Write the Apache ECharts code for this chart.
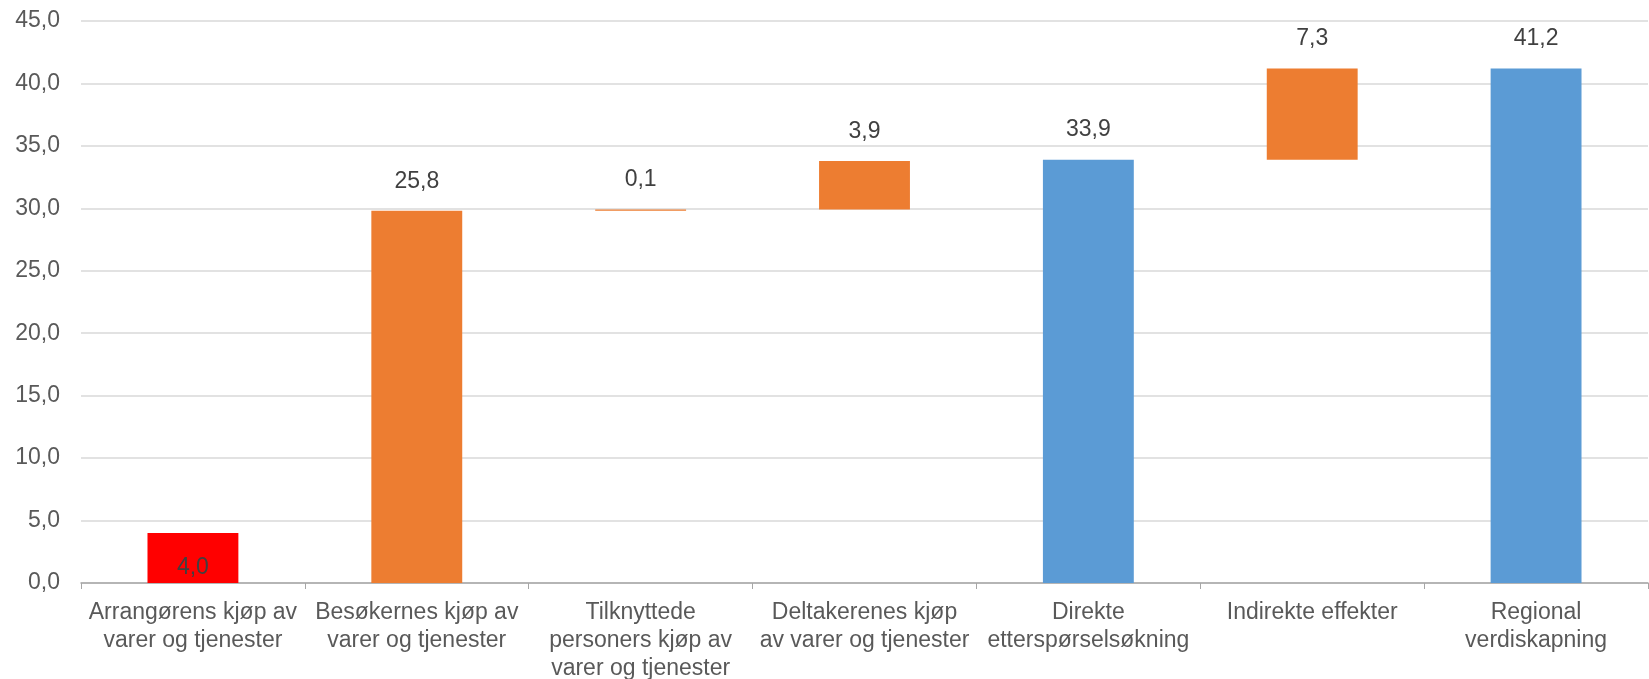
<!DOCTYPE html>
<html>
<head>
<meta charset="utf-8">
<script src="https://cdn.jsdelivr.net/npm/echarts@6/dist/echarts.min.js"></script>
<style>
html, body { margin: 0; padding: 0; background: #fff; }
#chart { width: 1649px; height: 679px; }
</style>
</head>
<body>
<div id="chart"></div>
<script>
// kategorier
const categories = [
    'Arrangørens kjøp av\nvarer og tjenester',
    'Besøkernes kjøp av\nvarer og tjenester',
    'Tilknyttede\npersoners kjøp av\nvarer og tjenester',
    'Deltakerenes kjøp\nav varer og tjenester',
    'Direkte\netterspørselsøkning',
    'Indirekte effekter',
    'Regional\nverdiskapning'
];
// usynlig grunnlag for fossefallet
const baseValues = [0, 4.0, 29.8, 29.9, 0, 33.9, 0];
// synlige verdier
const values = [4.0, 25.8, 0.1, 3.9, 33.9, 7.3, 41.2];
const barColors = ['#FF0000', '#ED7D31', '#ED7D31', '#ED7D31', '#5B9BD5', '#ED7D31', '#5B9BD5'];
const yTicks = { min: 0, max: 45, interval: 5 };

const fmt = v => Number(v).toFixed(1).replace('.', ',');

const chart = echarts.init(document.getElementById('chart'));

const option = {
    animation: false,
    textStyle: { fontFamily: 'Liberation Sans, Arial, sans-serif' },
    // fast plassering, ikke krymp rutenettet for etikettene
    grid: { left: 81, right: 1, top: 21, bottom: 96, outerBoundsMode: 'none' },
    xAxis: {
        type: 'category',
        data: categories,
        axisLine: { lineStyle: { color: '#a6a6a6', width: 1.5 } },
        axisTick: { show: true, length: 6, lineStyle: { color: '#a6a6a6' } },
        axisLabel: {
            color: '#595959',
            fontSize: 23,
            lineHeight: 28,
            margin: 16,
            interval: 0
        }
    },
    yAxis: {
        type: 'value',
        min: yTicks.min,
        max: yTicks.max,
        interval: yTicks.interval,
        axisLine: { show: false },
        axisTick: { show: false },
        splitLine: { lineStyle: { color: '#d9d9d9', width: 1.5 } },
        axisLabel: {
            color: '#595959',
            fontSize: 23,
            margin: 21,
            formatter: v => fmt(v)
        }
    },
    series: [
        {
            type: 'bar',
            stack: 'total',
            barWidth: '40.6%',
            silent: true,
            data: baseValues.map((v, i) => ({
                value: v,
                itemStyle: { color: i === 1 ? '#ED7D31' : 'rgba(0,0,0,0)' }
            }))
        },
        {
            type: 'bar',
            stack: 'total',
            barWidth: '40.6%',
            data: values.map((v, i) => ({
                value: v,
                itemStyle: { color: barColors[i] },
                label: i === 0
                    ? { show: true, position: 'insideBottom', distance: 4 }
                    : { show: true, position: 'top', distance: 18 }
            })),
            label: {
                color: '#404040',
                fontSize: 23,
                formatter: p => fmt(p.value)
            }
        }
    ]
};

chart.setOption(option);
</script>
</body>
</html>
